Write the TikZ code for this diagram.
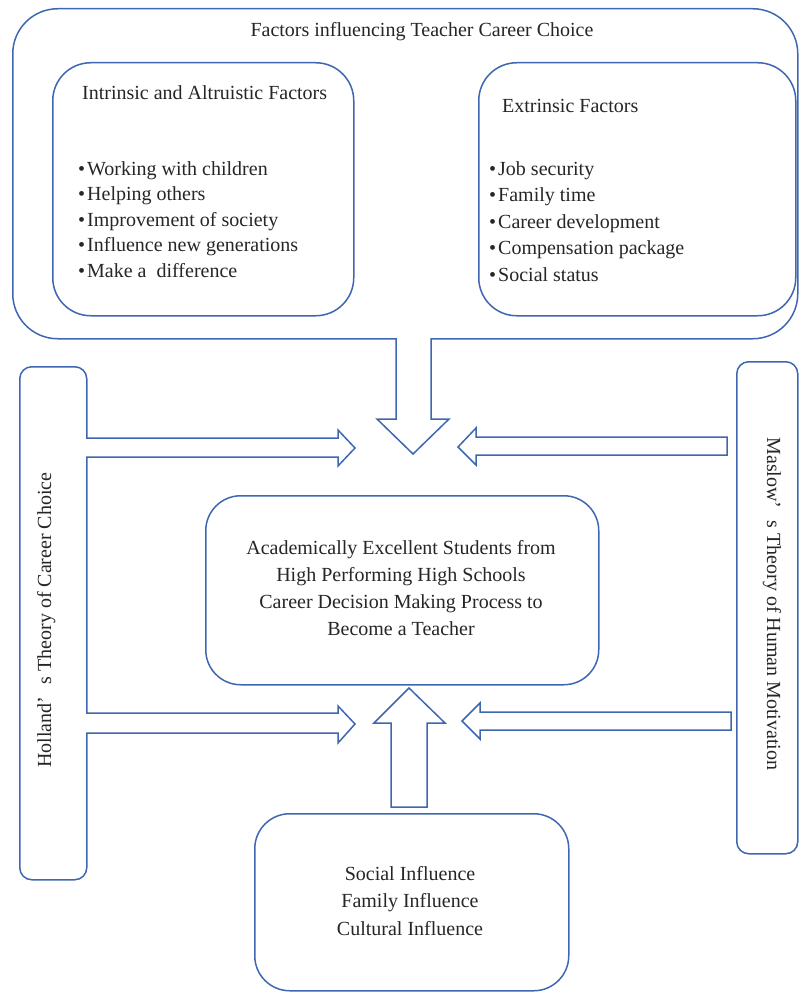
\documentclass[tikz,border=0pt]{standalone}
\usepackage{fontspec}
\setmainfont{Liberation Serif}
\definecolor{bl}{RGB}{62,103,178}
\begin{document}
\begin{tikzpicture}[x=1pt,y=-1pt,
  box/.style={draw=bl, line width=1.5pt, fill=white, inner sep=0pt, anchor=north west},
  txt/.style={font=\fontsize{20}{25.5}\selectfont, inner sep=0pt, text=black!85},
  barrow/.style={draw=bl, line width=1.5pt, fill=white, line join=miter}]
\useasboundingbox (0,0) rectangle (798,992);
% boxes
\node[box, rounded corners=45pt, minimum width=785pt, minimum height=330pt] (outer) at (12,8) {};
\node[box, rounded corners=38pt, minimum width=301pt, minimum height=253pt] (intr) at (52,62) {};
\node[box, rounded corners=38pt, minimum width=317pt, minimum height=253pt] (extr) at (478,62) {};
\node[box, rounded corners=12pt, minimum width=67pt, minimum height=513pt] (holl) at (19,366) {};
\node[box, rounded corners=12pt, minimum width=61pt, minimum height=492pt] (masl) at (736,361) {};
\node[box, rounded corners=35pt, minimum width=393pt, minimum height=189pt] (cent) at (205,495) {};
\node[box, rounded corners=35pt, minimum width=314pt, minimum height=177pt] (soc) at (254,813) {};
% texts
\node[txt, anchor=base] (title) at (422,37) {Factors influencing Teacher Career Choice};
\node[txt, anchor=base west] (intrT) at (82,100) {Intrinsic and Altruistic Factors};
\node[txt, anchor=base west, align=left] (intrL) at (78,277) {\textbullet\hspace{2pt}Working with children\\
\textbullet\hspace{2pt}Helping others\\
\textbullet\hspace{2pt}Improvement of society\\
\textbullet\hspace{2pt}Influence new generations\\
\textbullet\hspace{2pt}Make a\ \ difference};
\node[txt, anchor=base west] (extrT) at (502,113) {Extrinsic Factors};
\node[txt, anchor=base west, align=left, font=\fontsize{20}{26.5}\selectfont] (extrL) at (489,281) {\textbullet\hspace{2pt}Job security\\
\textbullet\hspace{2pt}Family time\\
\textbullet\hspace{2pt}Career development\\
\textbullet\hspace{2pt}Compensation package\\
\textbullet\hspace{2pt}Social status};
\node[txt, anchor=base, align=center, font=\fontsize{20}{26.7}\selectfont] (centT) at (401,635) {Academically Excellent Students from\\
High Performing High Schools\\
Career Decision Making Process to\\
Become a Teacher};
\node[txt, anchor=base, align=center, font=\fontsize{20}{27.5}\selectfont] (socT) at (410,935) {Social Influence\\
Family Influence\\
Cultural Influence};
\node[txt, anchor=base, rotate=90] (hollT) at (51,620) {Holland’\hspace{0.6em}s Theory of Career Choice};
\node[txt, anchor=base, rotate=-90] (maslT) at (767,604) {Maslow’\hspace{0.6em}s Theory of Human Motivation};
% block arrows
\draw[barrow] (396,338) -- (396,419) -- (377,419) -- (413,454) -- (449,419) -- (431,419) -- (431,338);
\draw[barrow] (86,438) -- (338,438) -- (338,430) -- (355,448) -- (338,466) -- (338,457) -- (86,457);
\draw[barrow] (727,437) -- (476,437) -- (476,428) -- (458,447) -- (476,465) -- (476,455) -- (727,455) -- cycle;
\draw[barrow] (86,713) -- (338,713) -- (338,706) -- (355,724) -- (338,743) -- (338,733) -- (86,733);
\draw[barrow] (731,712) -- (480,712) -- (480,703) -- (462,721) -- (480,739) -- (480,730) -- (731,730) -- cycle;
\draw[barrow] (391,807) -- (391,723) -- (374,723) -- (409,688) -- (445,723) -- (427,723) -- (427,807) -- cycle;
\end{tikzpicture}
\end{document}
